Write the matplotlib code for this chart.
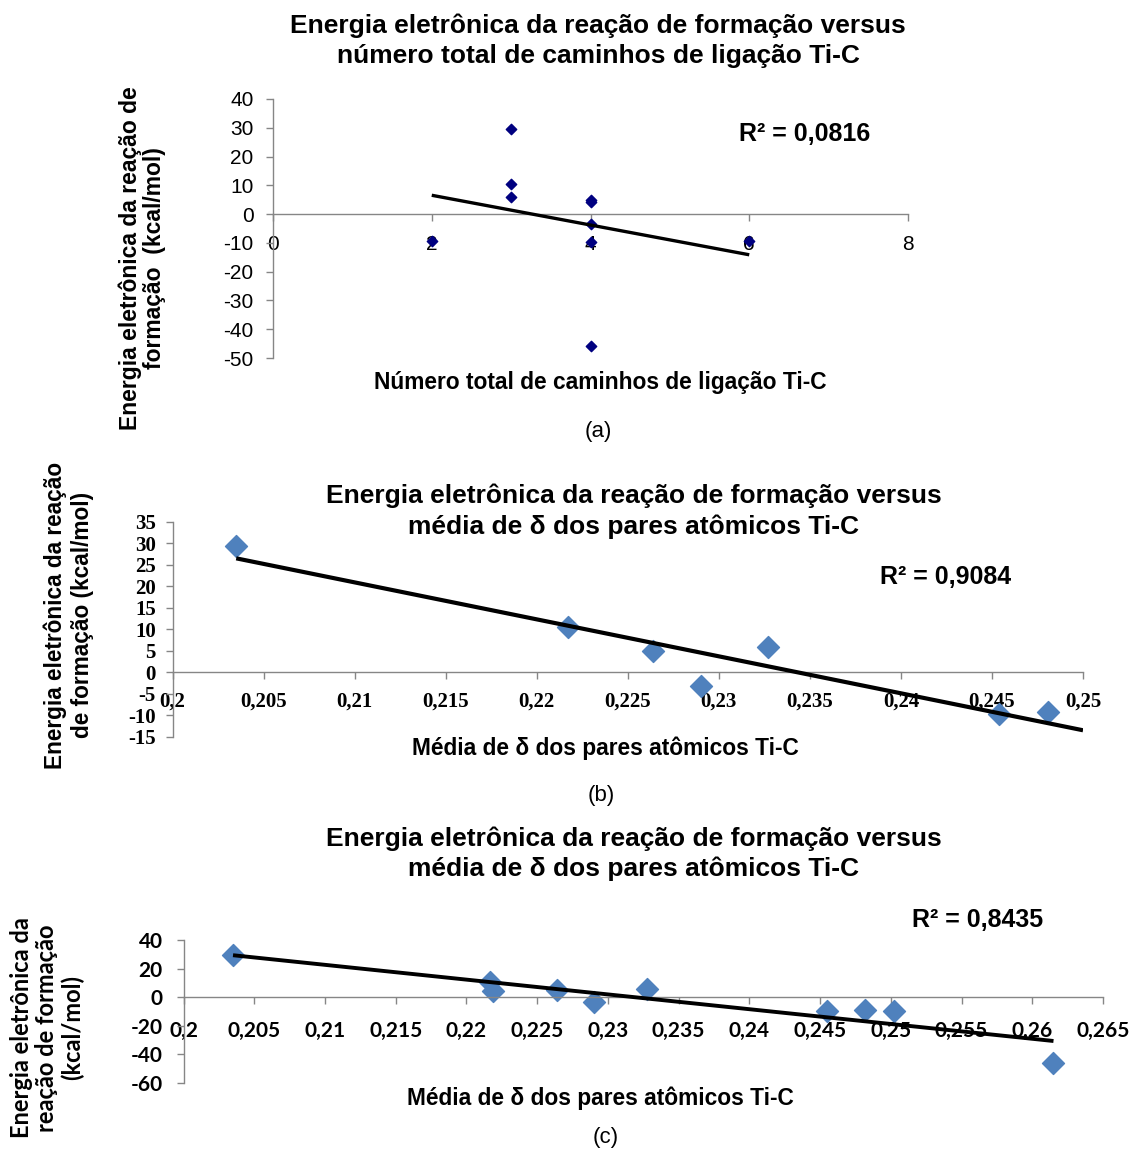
import numpy as np
import matplotlib
matplotlib.use("Agg")
import matplotlib.pyplot as plt

W, H = 1133, 1151

# ---------------- data ----------------
a_x = [2, 3, 3, 3, 4, 4, 4, 4, 4, 6]
a_y = [-9.4, 29.5, 10.5, 5.9, 5.0, 4.2, -3.3, -9.8, -45.8, -9.2]

b_x = [0.2035, 0.2217, 0.2264, 0.2290, 0.2327, 0.2454, 0.2481]
b_y = [29.3, 10.5, 5.0, -3.3, 5.9, -9.8, -9.2]

c_x = [0.2035, 0.2217, 0.2219, 0.2264, 0.2290, 0.2328, 0.2455, 0.2482, 0.2502, 0.2615]
c_y = [29.3, 10.5, 4.2, 5.0, -3.3, 5.9, -9.8, -9.2, -9.4, -45.8]

a_xticks = [0, 2, 4, 6, 8]
a_yticks = [40, 30, 20, 10, 0, -10, -20, -30, -40, -50]
b_xticks = [0.2, 0.205, 0.21, 0.215, 0.22, 0.225, 0.23, 0.235, 0.24, 0.245, 0.25]
b_yticks = [35, 30, 25, 20, 15, 10, 5, 0, -5, -10, -15]
c_xticks = [0.2, 0.205, 0.21, 0.215, 0.22, 0.225, 0.23, 0.235, 0.24, 0.245, 0.25, 0.255, 0.26, 0.265]
c_yticks = [40, 20, 0, -20, -40, -60]

title_a = ["Energia eletrônica da reação de formação versus",
           "número total de caminhos de ligação Ti-C"]
title_bc = ["Energia eletrônica da reação de formação versus",
            "média de δ dos pares atômicos Ti-C"]
ylab_a = ["Energia eletrônica da reação de", "formação  (kcal/mol)"]
ylab_b = ["Energia eletrônica da reação", "de formação (kcal/mol)"]
ylab_c = ["Energia eletrônica da", "reação de formação", "(kcal/mol)"]
xlab_a = "Número total de caminhos de ligação Ti-C"
xlab_bc = "Média de δ dos pares atômicos Ti-C"
r2_a, r2_b, r2_c = "R² = 0,0816", "R² = 0,9084", "R² = 0,8435"

SANS = ["Liberation Sans", "DejaVu Sans"]
SERIF = ["Liberation Serif", "DejaVu Serif"]
CAL = ["Lato", "DejaVu Sans"]
GRAY = "#868686"

fig = plt.figure(figsize=(W / 100, H / 100), dpi=100)


def ax_px(left, right, top, bottom):
    return fig.add_axes([left / W, 1 - bottom / H, (right - left) / W, (bottom - top) / H])


def ftext(x, y, s, **kw):
    fig.text(x / W, 1 - y / H, s, ha="center", va="center", **kw)


def comma(v):
    return ("%g" % v).replace(".", ",")


def style(ax, xt, yt, xlim, ylim, tickfont, xpad, ypad, fsize, weight):
    ax.set_xlim(*xlim)
    ax.set_ylim(*ylim)
    for s in ["top", "right"]:
        ax.spines[s].set_visible(False)
    ax.spines["bottom"].set_position(("data", 0))
    for s in ["left", "bottom"]:
        ax.spines[s].set_color(GRAY)
        ax.spines[s].set_linewidth(1.0)
    ax.set_xticks(xt)
    ax.set_xticklabels([comma(v) for v in xt])
    ax.set_yticks(yt)
    ax.set_yticklabels([comma(v) for v in yt])
    ax.tick_params(axis="x", direction="out", length=5, width=1, color=GRAY, pad=xpad)
    ax.tick_params(axis="y", direction="out", length=5, width=1, color=GRAY, pad=ypad)
    for lab in ax.get_xticklabels() + ax.get_yticklabels():
        lab.set_family(tickfont)
        lab.set_fontsize(fsize)
        lab.set_fontweight(weight)
        lab.set_color("black")
    ax.patch.set_alpha(0)


def trend(ax, x, y, x0, x1, lw):
    k, b = np.polyfit(x, y, 1)
    xx = np.array([x0, x1])
    ax.plot(xx, k * xx + b, color="black", lw=lw, solid_capstyle="butt", zorder=3)


TITLE = 19
AXL = 16.4

# ---------------- panel (a) ----------------
axa = ax_px(273, 908, 99, 358)
axa.scatter(a_x, a_y, marker="D", s=28, color="#000080", zorder=2)
trend(axa, a_x, a_y, min(a_x), max(a_x), 2.4)
style(axa, a_xticks, a_yticks, (0, 8), (-50, 40), SANS, 10, 9, 15, "normal")
for i, t in enumerate(title_a):
    ftext(598, 26 + 30 * i, t, family=SANS, fontsize=TITLE, fontweight="bold")
for i, t in enumerate(ylab_a):
    ftext(130 + 25 * i, 258, t, family=SANS, fontsize=16.5, fontweight="bold", rotation=90)
ftext(600, 383, xlab_a, family=SANS, fontsize=AXL, fontweight="bold")
ftext(805, 134, r2_a, family=SANS, fontsize=18, fontweight="bold")
ftext(598, 432, "(a)", family=SANS, fontsize=16)

# ---------------- panel (b) ----------------
axb = ax_px(172.5, 1083, 521.7, 736.5)
axb.scatter(b_x, b_y, marker="D", s=125, color="#4F81BD", zorder=2)
trend(axb, b_x, b_y, min(b_x), 0.25, 3.0)
style(axb, b_xticks, b_yticks, (0.2, 0.25), (-15, 35), SERIF, 9, 7, 15, "bold")
for i, t in enumerate(title_bc):
    ftext(634, 496 + 31 * i, t, family=SANS, fontsize=TITLE, fontweight="bold")
for i, t in enumerate(ylab_b):
    ftext(55 + 27 * i, 615, t, family=SANS, fontsize=16.3, fontweight="bold", rotation=90)
ftext(605, 748, xlab_bc, family=SANS, fontsize=AXL, fontweight="bold")
ftext(946, 577, r2_b, family=SANS, fontsize=18, fontweight="bold")
ftext(601, 796, "(b)", family=SANS, fontsize=16)

# ---------------- panel (c) ----------------
axc = ax_px(183.5, 1103, 940, 1083)
axc.scatter(c_x, c_y, marker="D", s=125, color="#4F81BD", zorder=2)
trend(axc, c_x, c_y, min(c_x), max(c_x), 2.8)
style(axc, c_xticks, c_yticks, (0.2, 0.265), (-60, 40), CAL, 12, 10, 15, "bold")
for i, t in enumerate(title_bc):
    ftext(634, 839 + 30 * i, t, family=SANS, fontsize=TITLE, fontweight="bold")
for i, t in enumerate(ylab_c):
    ftext(22 + 25 * i, 1028, t, family=CAL, fontsize=17, fontweight="bold", rotation=90)
ftext(600, 1098, xlab_bc, family=SANS, fontsize=AXL, fontweight="bold")
ftext(978, 920, r2_c, family=SANS, fontsize=18, fontweight="bold")
ftext(606, 1138, "(c)", family=SANS, fontsize=16)

fig.savefig("out.png", dpi=100)
